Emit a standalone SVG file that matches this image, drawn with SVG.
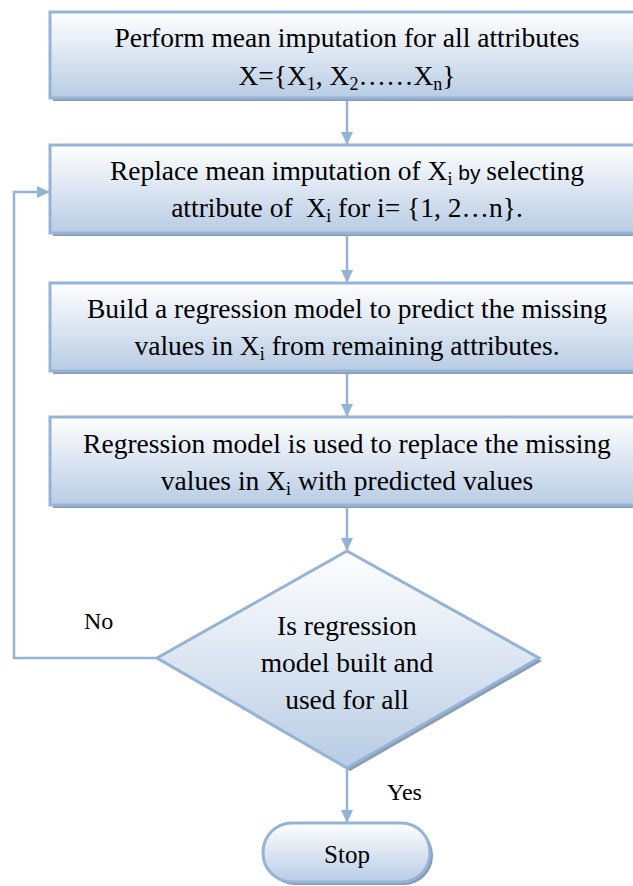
<svg xmlns="http://www.w3.org/2000/svg" width="633" height="886" viewBox="0 0 633 886">
<style>
.box{fill:url(#g);stroke:#95b3d7;stroke-width:3}
.shadow{fill:#8d9bb0}
.conn{fill:none;stroke:#95b3d7;stroke-width:2.5}
</style>
<defs>
<linearGradient id="g" x1="0" y1="0" x2="0" y2="1">
<stop offset="0" stop-color="#ffffff"/>
<stop offset="1" stop-color="#b8cce4"/>
</linearGradient>
<marker id="arr" markerWidth="13" markerHeight="12" refX="13" refY="6" orient="auto" markerUnits="userSpaceOnUse">
<path d="M0,0 L13,6 L0,12 z" fill="#95b3d7"/>
</marker>
</defs>
<g id="connectors">
<line class="conn" x1="347" y1="98" x2="347" y2="145" marker-end="url(#arr)"/>
<line class="conn" x1="347" y1="234" x2="347" y2="283" marker-end="url(#arr)"/>
<line class="conn" x1="347" y1="373" x2="347" y2="417" marker-end="url(#arr)"/>
<line class="conn" x1="347" y1="508" x2="347" y2="551" marker-end="url(#arr)"/>
<line class="conn" x1="347" y1="769" x2="347" y2="823" marker-end="url(#arr)"/>
<polyline class="conn" points="157,658 14,658 14,192 50,192" marker-end="url(#arr)"/>
<text x="84" y="629" font-family="Liberation Serif" font-size="24">No</text>
<text x="387" y="800" font-family="Liberation Serif" font-size="24">Yes</text>
</g>
<g id="node1">
<rect class="shadow" x="53" y="15" width="600" height="86"/>
<rect class="box" x="50" y="12" width="600" height="86"/>
<text x="347" y="47" font-family="Liberation Serif" font-size="27.5" text-anchor="middle">Perform mean imputation for all attributes</text>
<text x="347" y="85" font-family="Liberation Serif" font-size="27.5" text-anchor="middle">X={X<tspan font-size="18" dy="5">1</tspan><tspan dy="-5">, X</tspan><tspan font-size="18" dy="5">2</tspan><tspan dy="-5">……X</tspan><tspan font-size="18" dy="5">n</tspan><tspan dy="-5">}</tspan></text>
</g>
<g id="node2">
<rect class="shadow" x="53" y="148" width="600" height="88"/>
<rect class="box" x="50" y="145" width="600" height="88"/>
<text x="347" y="180" font-family="Liberation Serif" font-size="27.5" text-anchor="middle">Replace mean imputation of X<tspan font-size="18" dy="5">i</tspan><tspan dy="-5" font-family="Liberation Sans" font-size="21"> by </tspan>selecting</text>
<text x="347" y="217" font-family="Liberation Serif" font-size="27.5" text-anchor="middle" xml:space="preserve">attribute of  X<tspan font-size="18" dy="5">i</tspan><tspan dy="-5"> for i= {1, 2…n}.</tspan></text>
</g>
<g id="node3">
<rect class="shadow" x="53" y="286" width="600" height="88"/>
<rect class="box" x="50" y="283" width="600" height="88"/>
<text x="347" y="318" font-family="Liberation Serif" font-size="27.5" text-anchor="middle">Build a regression model to predict the missing</text>
<text x="347" y="355" font-family="Liberation Serif" font-size="27.5" text-anchor="middle">values in X<tspan font-size="18" dy="5">i</tspan><tspan dy="-5"> from remaining attributes.</tspan></text>
</g>
<g id="node4">
<rect class="shadow" x="53" y="420" width="600" height="88"/>
<rect class="box" x="50" y="417" width="600" height="88"/>
<text x="347" y="453" font-family="Liberation Serif" font-size="27.5" text-anchor="middle">Regression model is used to replace the missing</text>
<text x="347" y="490" font-family="Liberation Serif" font-size="27.5" text-anchor="middle">values in X<tspan font-size="18" dy="5">i</tspan><tspan dy="-5"> with predicted values</tspan></text>
</g>
<g id="decision">
<polygon class="shadow" points="350,554 542,661 350,771 160,661"/>
<polygon class="box" points="347,551 539,658 347,768 157,658"/>
<text x="347" y="635" font-family="Liberation Serif" font-size="27.5" text-anchor="middle">Is regression</text>
<text x="347" y="672" font-family="Liberation Serif" font-size="27.5" text-anchor="middle">model built and</text>
<text x="347" y="709" font-family="Liberation Serif" font-size="27.5" text-anchor="middle">used for all</text>
</g>
<g id="stop">
<rect class="shadow" x="266" y="826" width="167" height="59" rx="29"/>
<rect class="box" x="263" y="823" width="167" height="59" rx="29"/>
<text x="347" y="863" font-family="Liberation Serif" font-size="25" text-anchor="middle">Stop</text>
</g>
</svg>
